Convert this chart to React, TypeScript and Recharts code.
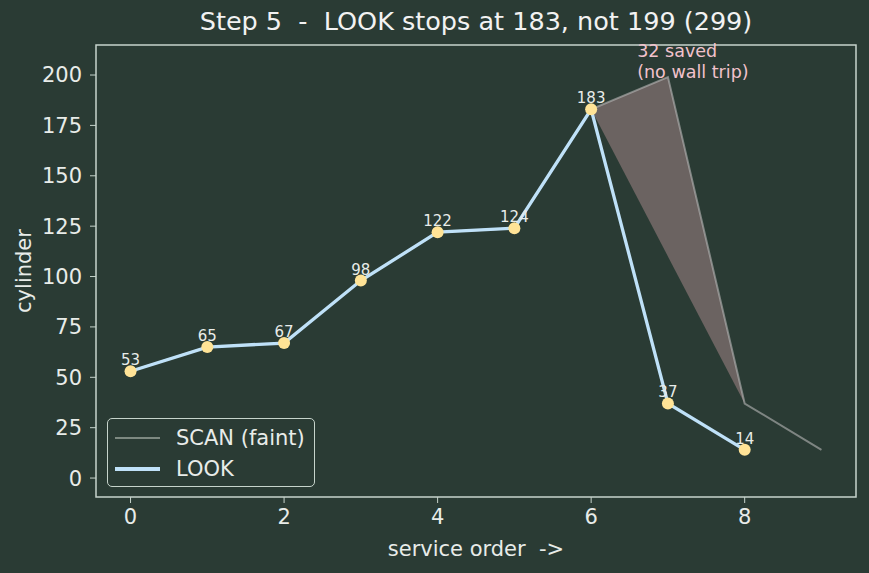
import React from "react";
import {
  Area,
  ComposedChart,
  LabelList,
  Line,
  ReferenceArea,
  ReferenceDot,
  XAxis,
  YAxis,
} from "recharts";

const order = [0, 1, 2, 3, 4, 5, 6, 7, 8, 9];
const scanCyl = [53, 65, 67, 98, 122, 124, 183, 199, 37, 14];
const lookCyl = [53, 65, 67, 98, 122, 124, 183, 37, 14];
// saved region: between the SCAN path (6..8) and the chord 183 -> 37
const savedLow = [null, null, null, null, null, null, 183, 110, 37, null];
const savedHigh = [null, null, null, null, null, null, 183, 199, 37, null];

const xTicks = [0, 2, 4, 6, 8];
const yTicks = [0, 25, 50, 75, 100, 125, 150, 175, 200];

const data = order.map((x, i) => ({
  x,
  scan: scanCyl[i],
  look: lookCyl[i] ?? null,
  saved: savedLow[i] == null ? null : [savedLow[i], savedHigh[i]],
}));

const BG = "#2a3b34";
const FG = "#e8ece9";
const FRAME = "#c6d3cb";
const FONT = "DejaVu Sans, sans-serif";

const LegendBox = () => (
  <div
    style={{
      position: "absolute",
      left: 107,
      top: 418,
      width: 208,
      height: 69,
      border: `1.5px solid ${FRAME}`,
      borderRadius: 5,
      background: BG,
      boxSizing: "border-box",
      fontFamily: FONT,
      fontSize: 21,
      color: FG,
      padding: "3px 0 0 7px",
    }}
  >
    <div style={{ display: "flex", alignItems: "center", height: 31 }}>
      <div style={{ width: 45, height: 2, background: "#7d8981", marginRight: 16 }} />
      SCAN (faint)
    </div>
    <div style={{ display: "flex", alignItems: "center", height: 31 }}>
      <div style={{ width: 45, height: 4, background: "#bfe1f8", marginRight: 16 }} />
      LOOK
    </div>
  </div>
);

const Annotation = (props: any) => {
  const { x, y } = props.viewBox;
  return (
    <text x={x} y={y} fill="#f2c2cc" fontSize={17.5} fontFamily={FONT}>
      <tspan x={x}>32 saved</tspan>
      <tspan x={x} dy={21}>(no wall trip)</tspan>
    </text>
  );
};

export default function App() {
  return (
    <div
      style={{
        position: "absolute",
        left: 0,
        top: 0,
        width: 869,
        height: 573,
        background: BG,
      }}
    >
      <div
        style={{
          position: "absolute",
          left: 96,
          width: 760,
          top: 6,
          textAlign: "center",
          fontFamily: FONT,
          fontSize: 25.5,
          color: "#f2f2f2",
          whiteSpace: "pre",
        }}
      >
        {"Step 5  -  LOOK stops at 183, not 199 (299)"}
      </div>
      <ComposedChart
        width={869}
        height={573}
        data={data}
        margin={{ top: 45, right: 13, bottom: 0, left: 0 }}
      >
        <XAxis
          dataKey="x"
          type="number"
          domain={[-0.45, 9.45]}
          ticks={xTicks}
          allowDataOverflow
          height={76}
          axisLine={false}
          tickSize={6}
          tickMargin={6}
          tickLine={{ stroke: FRAME }}
          tick={{ fill: FG, fontSize: 21, fontFamily: FONT }}
          label={{
            content: (p: any) => (
              <text
                x={p.viewBox.x + p.viewBox.width / 2}
                y={p.viewBox.y + 59}
                textAnchor="middle"
                fill={FG}
                fontSize={21}
                fontFamily={FONT}
                style={{ whiteSpace: "pre" }}
              >
                {"service order  ->"}
              </text>
            ),
          }}
        />
        <YAxis
          type="number"
          domain={[-9.4, 214.9]}
          ticks={yTicks}
          allowDataOverflow
          width={96}
          axisLine={false}
          tickSize={6}
          tickMargin={8}
          tickLine={{ stroke: FRAME }}
          tick={{ fill: FG, fontSize: 21, fontFamily: FONT }}
          label={{
            content: (p: any) => {
              const cx = 24;
              const cy = p.viewBox.y + p.viewBox.height / 2;
              return (
                <text
                  x={cx}
                  y={cy}
                  transform={`rotate(-90 ${cx} ${cy})`}
                  textAnchor="middle"
                  dominantBaseline="central"
                  fill={FG}
                  fontSize={21}
                  fontFamily={FONT}
                >
                  cylinder
                </text>
              );
            },
          }}
        />
        <ReferenceArea
          x1={-0.45}
          x2={9.45}
          y1={-9.4}
          y2={214.9}
          fill="none"
          stroke={FRAME}
          strokeWidth={1.5}
          ifOverflow="visible"
        />
        <Area
          dataKey="saved"
          type="linear"
          fill="#6b6361"
          fillOpacity={1}
          stroke="none"
          isAnimationActive={false}
          legendType="none"
        />
        <Line
          dataKey="scan"
          name="SCAN (faint)"
          type="linear"
          stroke="#b8b8b8"
          strokeOpacity={0.6}
          strokeWidth={2}
          dot={false}
          isAnimationActive={false}
        />
        <Line
          dataKey="look"
          name="LOOK"
          type="linear"
          stroke="#bfe1f8"
          strokeWidth={3.3}
          dot={{ r: 6, fill: "#ffe396", stroke: "none" }}
          activeDot={false}
          isAnimationActive={false}
        >
          <LabelList
            dataKey="look"
            position="top"
            offset={6}
            fill={FG}
            fontSize={15}
            fontFamily={FONT}
          />
        </Line>
        <ReferenceDot
          x={6.6}
          y={209}
          r={0}
          fill="none"
          stroke="none"
          ifOverflow="visible"
          label={<Annotation />}
        />
      </ComposedChart>
      <LegendBox />
    </div>
  );
}
